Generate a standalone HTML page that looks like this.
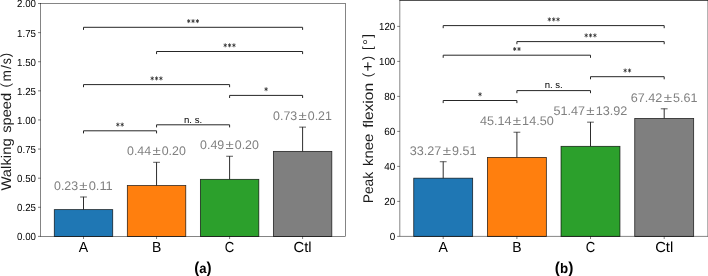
<!DOCTYPE html>
<html><head><meta charset="utf-8"><title>Figure</title>
<style>html,body{margin:0;padding:0;background:#fff;}svg{display:block;will-change:transform;text-rendering:geometricPrecision;font-family:"Liberation Sans", sans-serif;}</style>
</head><body>
<svg width="708" height="276" viewBox="0 0 708 276">
<rect width="708" height="276" fill="#fff"/>
<rect x="54.29" y="209.62" width="58.43" height="26.78" fill="#1f77b4" stroke="#000" stroke-opacity="0.8" stroke-width="0.8"/>
<rect x="127.34" y="185.57" width="58.43" height="50.83" fill="#ff7f0e" stroke="#000" stroke-opacity="0.8" stroke-width="0.8"/>
<rect x="200.39" y="179.34" width="58.43" height="57.06" fill="#2ca02c" stroke="#000" stroke-opacity="0.8" stroke-width="0.8"/>
<rect x="273.39" y="151.39" width="58.43" height="85.01" fill="#7f7f7f" stroke="#000" stroke-opacity="0.8" stroke-width="0.8"/>
<path d="M83.5 209.62V196.81" stroke="#222" stroke-width="0.95" fill="none"/>
<path d="M80.1 197.01H86.9" stroke="#333" stroke-width="0.8" fill="none"/>
<text x="53.99" y="189.81" font-size="12.5" text-anchor="start" fill="#808080" textLength="24.14" lengthAdjust="spacingAndGlyphs">0.23</text>
<text x="83.5" y="189.81" font-size="12.5" text-anchor="middle" fill="#808080" textLength="8.23" lengthAdjust="spacingAndGlyphs">±</text>
<text x="88.66" y="189.81" font-size="12.5" text-anchor="start" fill="#808080" textLength="24.14" lengthAdjust="spacingAndGlyphs">0.11</text>
<path d="M156.55 185.57V162.1" stroke="#222" stroke-width="0.95" fill="none"/>
<path d="M153.15 162.3H159.95" stroke="#333" stroke-width="0.8" fill="none"/>
<text x="127.04" y="155.1" font-size="12.5" text-anchor="start" fill="#808080" textLength="24.14" lengthAdjust="spacingAndGlyphs">0.44</text>
<text x="156.55" y="155.1" font-size="12.5" text-anchor="middle" fill="#808080" textLength="8.23" lengthAdjust="spacingAndGlyphs">±</text>
<text x="161.71" y="155.1" font-size="12.5" text-anchor="start" fill="#808080" textLength="24.14" lengthAdjust="spacingAndGlyphs">0.20</text>
<path d="M229.6 179.34V156.05" stroke="#222" stroke-width="0.95" fill="none"/>
<path d="M226.2 156.25H233" stroke="#333" stroke-width="0.8" fill="none"/>
<text x="200.09" y="149.05" font-size="12.5" text-anchor="start" fill="#808080" textLength="24.14" lengthAdjust="spacingAndGlyphs">0.49</text>
<text x="229.6" y="149.05" font-size="12.5" text-anchor="middle" fill="#808080" textLength="8.23" lengthAdjust="spacingAndGlyphs">±</text>
<text x="234.76" y="149.05" font-size="12.5" text-anchor="start" fill="#808080" textLength="24.14" lengthAdjust="spacingAndGlyphs">0.20</text>
<path d="M302.6 151.39V126.94" stroke="#222" stroke-width="0.95" fill="none"/>
<path d="M299.2 127.14H306" stroke="#333" stroke-width="0.8" fill="none"/>
<text x="273.09" y="119.94" font-size="12.5" text-anchor="start" fill="#808080" textLength="24.14" lengthAdjust="spacingAndGlyphs">0.73</text>
<text x="302.6" y="119.94" font-size="12.5" text-anchor="middle" fill="#808080" textLength="8.23" lengthAdjust="spacingAndGlyphs">±</text>
<text x="307.76" y="119.94" font-size="12.5" text-anchor="start" fill="#808080" textLength="24.14" lengthAdjust="spacingAndGlyphs">0.21</text>
<rect x="40.6" y="3.5" width="305" height="232.9" fill="none" stroke="#000" stroke-opacity="0.8" stroke-width="0.6"/>
<text x="36" y="240.3" font-size="10.3" text-anchor="end" fill="#000" textLength="18.9" lengthAdjust="spacingAndGlyphs">0.00</text>
<text x="36" y="211.19" font-size="10.3" text-anchor="end" fill="#000" textLength="18.9" lengthAdjust="spacingAndGlyphs">0.25</text>
<text x="36" y="182.08" font-size="10.3" text-anchor="end" fill="#000" textLength="18.9" lengthAdjust="spacingAndGlyphs">0.50</text>
<text x="36" y="152.96" font-size="10.3" text-anchor="end" fill="#000" textLength="18.9" lengthAdjust="spacingAndGlyphs">0.75</text>
<text x="36" y="123.85" font-size="10.3" text-anchor="end" fill="#000" textLength="18.9" lengthAdjust="spacingAndGlyphs">1.00</text>
<text x="36" y="94.74" font-size="10.3" text-anchor="end" fill="#000" textLength="18.9" lengthAdjust="spacingAndGlyphs">1.25</text>
<text x="36" y="65.62" font-size="10.3" text-anchor="end" fill="#000" textLength="18.9" lengthAdjust="spacingAndGlyphs">1.50</text>
<text x="36" y="36.51" font-size="10.3" text-anchor="end" fill="#000" textLength="18.9" lengthAdjust="spacingAndGlyphs">1.75</text>
<text x="36" y="7.4" font-size="10.3" text-anchor="end" fill="#000" textLength="18.9" lengthAdjust="spacingAndGlyphs">2.00</text>
<text x="83.5" y="251.7" font-size="14.6" text-anchor="middle" fill="#000" textLength="9.4" lengthAdjust="spacingAndGlyphs">A</text>
<text x="156.55" y="251.7" font-size="14.6" text-anchor="middle" fill="#000" textLength="9.3" lengthAdjust="spacingAndGlyphs">B</text>
<text x="229.6" y="251.7" font-size="14.6" text-anchor="middle" fill="#000" textLength="9.5" lengthAdjust="spacingAndGlyphs">C</text>
<text x="302.6" y="251.7" font-size="14.6" text-anchor="middle" fill="#000" textLength="18.1" lengthAdjust="spacingAndGlyphs">Ctl</text>
<path d="M40.6 236.4h-2.6M40.6 207.29h-2.6M40.6 178.18h-2.6M40.6 149.06h-2.6M40.6 119.95h-2.6M40.6 90.84h-2.6M40.6 61.72h-2.6M40.6 32.61h-2.6M40.6 3.5h-2.6M83.5 236.4v2.6M156.55 236.4v2.6M229.6 236.4v2.6M302.6 236.4v2.6" stroke="#000" stroke-opacity="0.85" stroke-width="0.6" fill="none"/>
<path d="M83.5 29.9V27.3H302.6V29.9" stroke="#262626" stroke-width="1.0" fill="none"/>
<path d="M188.7 19.1V23.1M187.1 20.12L190.3 22.08M187.1 22.08L190.3 20.12M193.05 19.1V23.1M191.45 20.12L194.65 22.08M191.45 22.08L194.65 20.12M197.4 19.1V23.1M195.8 20.12L199 22.08M195.8 22.08L199 20.12" stroke="#2a2a2a" stroke-width="0.8" fill="none"/>
<path d="M156.55 54.1V51.5H302.6V54.1" stroke="#262626" stroke-width="1.0" fill="none"/>
<path d="M225.23 43.3V47.3M223.63 44.32L226.83 46.28M223.63 46.28L226.83 44.32M229.58 43.3V47.3M227.98 44.32L231.18 46.28M227.98 46.28L231.18 44.32M233.93 43.3V47.3M232.33 44.32L235.53 46.28M232.33 46.28L235.53 44.32" stroke="#2a2a2a" stroke-width="0.8" fill="none"/>
<path d="M83.5 87.2V84.6H229.6V87.2" stroke="#262626" stroke-width="1.0" fill="none"/>
<path d="M152.2 76.4V80.4M150.6 77.42L153.8 79.38M150.6 79.38L153.8 77.42M156.55 76.4V80.4M154.95 77.42L158.15 79.38M154.95 79.38L158.15 77.42M160.9 76.4V80.4M159.3 77.42L162.5 79.38M159.3 79.38L162.5 77.42" stroke="#2a2a2a" stroke-width="0.8" fill="none"/>
<path d="M229.6 98V95.4H302.6V98" stroke="#262626" stroke-width="1.0" fill="none"/>
<path d="M266.1 87.2V91.2M264.5 88.22L267.7 90.18M264.5 90.18L267.7 88.22" stroke="#2a2a2a" stroke-width="0.8" fill="none"/>
<path d="M83.5 133.4V130.8H156.55V133.4" stroke="#262626" stroke-width="1.0" fill="none"/>
<path d="M117.85 122.6V126.6M116.25 123.62L119.45 125.58M116.25 125.58L119.45 123.62M122.2 122.6V126.6M120.6 123.62L123.8 125.58M120.6 125.58L123.8 123.62" stroke="#2a2a2a" stroke-width="0.8" fill="none"/>
<path d="M156.55 127.4V124.8H229.6V127.4" stroke="#262626" stroke-width="1.0" fill="none"/>
<text x="193.07" y="122.5" font-size="9.5" text-anchor="middle" fill="#000" textLength="18.1" lengthAdjust="spacingAndGlyphs">n. s.</text>
<g transform="translate(11.1 121.7) rotate(-90)" font-size="14.0" fill="#1a1a1a"><text x="-68.91" y="0" textLength="52.25" lengthAdjust="spacingAndGlyphs">Walking</text><text x="-10.97" y="0" textLength="39.74" lengthAdjust="spacingAndGlyphs">speed</text><text x="36.56" y="-0.8" font-size="13.4" text-anchor="middle">(</text><text x="45.84" y="0" text-anchor="middle" textLength="11.4" lengthAdjust="spacingAndGlyphs">m</text><text x="54.76" y="0" text-anchor="middle" textLength="3.94" lengthAdjust="spacingAndGlyphs">/</text><text x="60.6" y="0" text-anchor="middle" textLength="6.1" lengthAdjust="spacingAndGlyphs">s</text><text x="66.8" y="-0.8" font-size="13.4" text-anchor="middle">)</text></g>
<rect x="413.73" y="178.18" width="58.93" height="58.22" fill="#1f77b4" stroke="#000" stroke-opacity="0.8" stroke-width="0.8"/>
<rect x="487.43" y="157.41" width="58.93" height="79" fill="#ff7f0e" stroke="#000" stroke-opacity="0.8" stroke-width="0.8"/>
<rect x="561.03" y="146.33" width="58.93" height="90.07" fill="#2ca02c" stroke="#000" stroke-opacity="0.8" stroke-width="0.8"/>
<rect x="634.73" y="118.42" width="58.93" height="117.98" fill="#7f7f7f" stroke="#000" stroke-opacity="0.8" stroke-width="0.8"/>
<path d="M443.2 178.18V161.53" stroke="#222" stroke-width="0.95" fill="none"/>
<path d="M439.8 161.73H446.6" stroke="#333" stroke-width="0.8" fill="none"/>
<text x="409.82" y="154.53" font-size="12.5" text-anchor="start" fill="#808080" textLength="31.58" lengthAdjust="spacingAndGlyphs">33.27</text>
<text x="446.81" y="154.53" font-size="12.5" text-anchor="middle" fill="#808080" textLength="8.31" lengthAdjust="spacingAndGlyphs">±</text>
<text x="452.01" y="154.53" font-size="12.5" text-anchor="start" fill="#808080" textLength="24.37" lengthAdjust="spacingAndGlyphs">9.51</text>
<path d="M516.9 157.41V132.03" stroke="#222" stroke-width="0.95" fill="none"/>
<path d="M513.5 132.23H520.3" stroke="#333" stroke-width="0.8" fill="none"/>
<text x="479.91" y="125.03" font-size="12.5" text-anchor="start" fill="#808080" textLength="31.58" lengthAdjust="spacingAndGlyphs">45.14</text>
<text x="516.9" y="125.03" font-size="12.5" text-anchor="middle" fill="#808080" textLength="8.31" lengthAdjust="spacingAndGlyphs">±</text>
<text x="522.11" y="125.03" font-size="12.5" text-anchor="start" fill="#808080" textLength="31.58" lengthAdjust="spacingAndGlyphs">14.50</text>
<path d="M590.5 146.33V121.97" stroke="#222" stroke-width="0.95" fill="none"/>
<path d="M587.1 122.17H593.9" stroke="#333" stroke-width="0.8" fill="none"/>
<text x="553.51" y="114.97" font-size="12.5" text-anchor="start" fill="#808080" textLength="31.58" lengthAdjust="spacingAndGlyphs">51.47</text>
<text x="590.5" y="114.97" font-size="12.5" text-anchor="middle" fill="#808080" textLength="8.31" lengthAdjust="spacingAndGlyphs">±</text>
<text x="595.71" y="114.97" font-size="12.5" text-anchor="start" fill="#808080" textLength="31.58" lengthAdjust="spacingAndGlyphs">13.92</text>
<path d="M664.2 118.42V108.6" stroke="#222" stroke-width="0.95" fill="none"/>
<path d="M660.8 108.8H667.6" stroke="#333" stroke-width="0.8" fill="none"/>
<text x="630.82" y="101.6" font-size="12.5" text-anchor="start" fill="#808080" textLength="31.58" lengthAdjust="spacingAndGlyphs">67.42</text>
<text x="667.81" y="101.6" font-size="12.5" text-anchor="middle" fill="#808080" textLength="8.31" lengthAdjust="spacingAndGlyphs">±</text>
<text x="673.01" y="101.6" font-size="12.5" text-anchor="start" fill="#808080" textLength="24.37" lengthAdjust="spacingAndGlyphs">5.61</text>
<path d="M399.8 0V236.4H708" fill="none" stroke="#000" stroke-opacity="0.8" stroke-width="0.6"/>
<path d="M399.5 0.45H708" fill="none" stroke="#000" stroke-opacity="0.8" stroke-width="0.9"/>
<path d="M707.75 0V236.4" fill="none" stroke="#000" stroke-opacity="0.8" stroke-width="0.5"/>
<text x="395.2" y="240.3" font-size="10.3" text-anchor="end" fill="#000" textLength="5.5" lengthAdjust="spacingAndGlyphs">0</text>
<text x="395.2" y="205.3" font-size="10.3" text-anchor="end" fill="#000" textLength="11" lengthAdjust="spacingAndGlyphs">20</text>
<text x="395.2" y="170.3" font-size="10.3" text-anchor="end" fill="#000" textLength="11" lengthAdjust="spacingAndGlyphs">40</text>
<text x="395.2" y="135.3" font-size="10.3" text-anchor="end" fill="#000" textLength="11" lengthAdjust="spacingAndGlyphs">60</text>
<text x="395.2" y="100.3" font-size="10.3" text-anchor="end" fill="#000" textLength="11" lengthAdjust="spacingAndGlyphs">80</text>
<text x="395.2" y="65.3" font-size="10.3" text-anchor="end" fill="#000" textLength="16.2" lengthAdjust="spacingAndGlyphs">100</text>
<text x="395.2" y="30.3" font-size="10.3" text-anchor="end" fill="#000" textLength="16.2" lengthAdjust="spacingAndGlyphs">120</text>
<text x="443.2" y="251.7" font-size="14.6" text-anchor="middle" fill="#000" textLength="9.4" lengthAdjust="spacingAndGlyphs">A</text>
<text x="516.9" y="251.7" font-size="14.6" text-anchor="middle" fill="#000" textLength="9.3" lengthAdjust="spacingAndGlyphs">B</text>
<text x="590.5" y="251.7" font-size="14.6" text-anchor="middle" fill="#000" textLength="9.5" lengthAdjust="spacingAndGlyphs">C</text>
<text x="664.2" y="251.7" font-size="14.6" text-anchor="middle" fill="#000" textLength="18.1" lengthAdjust="spacingAndGlyphs">Ctl</text>
<path d="M399.8 236.4h-2.6M399.8 201.4h-2.6M399.8 166.4h-2.6M399.8 131.4h-2.6M399.8 96.4h-2.6M399.8 61.4h-2.6M399.8 26.4h-2.6M443.2 236.4v2.6M516.9 236.4v2.6M590.5 236.4v2.6M664.2 236.4v2.6" stroke="#000" stroke-opacity="0.85" stroke-width="0.6" fill="none"/>
<path d="M443.2 28.2V25.6H664.2V28.2" stroke="#262626" stroke-width="1.0" fill="none"/>
<path d="M549.35 17.4V21.4M547.75 18.42L550.95 20.38M547.75 20.38L550.95 18.42M553.7 17.4V21.4M552.1 18.42L555.3 20.38M552.1 20.38L555.3 18.42M558.05 17.4V21.4M556.45 18.42L559.65 20.38M556.45 20.38L559.65 18.42" stroke="#2a2a2a" stroke-width="0.8" fill="none"/>
<path d="M516.9 44.2V41.6H664.2V44.2" stroke="#262626" stroke-width="1.0" fill="none"/>
<path d="M586.2 33.4V37.4M584.6 34.42L587.8 36.38M584.6 36.38L587.8 34.42M590.55 33.4V37.4M588.95 34.42L592.15 36.38M588.95 36.38L592.15 34.42M594.9 33.4V37.4M593.3 34.42L596.5 36.38M593.3 36.38L596.5 34.42" stroke="#2a2a2a" stroke-width="0.8" fill="none"/>
<path d="M443.2 57.8V55.2H590.5V57.8" stroke="#262626" stroke-width="1.0" fill="none"/>
<path d="M514.68 47V51M513.08 48.02L516.28 49.98M513.08 49.98L516.28 48.02M519.02 47V51M517.42 48.02L520.62 49.98M517.42 49.98L520.62 48.02" stroke="#2a2a2a" stroke-width="0.8" fill="none"/>
<path d="M590.5 79.3V76.7H664.2V79.3" stroke="#262626" stroke-width="1.0" fill="none"/>
<path d="M625.18 68.5V72.5M623.58 69.52L626.78 71.48M623.58 71.48L626.78 69.52M629.52 68.5V72.5M627.92 69.52L631.12 71.48M627.92 71.48L631.12 69.52" stroke="#2a2a2a" stroke-width="0.8" fill="none"/>
<path d="M443.2 103.1V100.5H516.9V103.1" stroke="#262626" stroke-width="1.0" fill="none"/>
<path d="M480.05 92.3V96.3M478.45 93.32L481.65 95.28M478.45 95.28L481.65 93.32" stroke="#2a2a2a" stroke-width="0.8" fill="none"/>
<path d="M516.9 93.2V90.6H590.5V93.2" stroke="#262626" stroke-width="1.0" fill="none"/>
<text x="553.7" y="88.3" font-size="9.5" text-anchor="middle" fill="#000" textLength="18.1" lengthAdjust="spacingAndGlyphs">n. s.</text>
<g transform="translate(373 118.5) rotate(-90)" font-size="14.0" fill="#1a1a1a"><text x="-84.8" y="0" textLength="31.49" lengthAdjust="spacingAndGlyphs">Peak</text><text x="-47.52" y="0" textLength="32.44" lengthAdjust="spacingAndGlyphs">knee</text><text x="-9.3" y="0" textLength="44.89" lengthAdjust="spacingAndGlyphs">flexion</text><text x="43.52" y="-0.8" font-size="13.4" text-anchor="middle">(</text><text x="52.02" y="0.4" font-size="15.6" text-anchor="middle" textLength="9.98" lengthAdjust="spacingAndGlyphs">+</text><text x="60.52" y="-0.8" font-size="13.4" text-anchor="middle">)</text><text x="70.33" y="-0.8" font-size="13.4" text-anchor="middle">[</text><text x="76.49" y="0" text-anchor="middle" textLength="5.95" lengthAdjust="spacingAndGlyphs">°</text><text x="82.65" y="-0.8" font-size="13.4" text-anchor="middle">]</text></g>
<text x="202.85" y="272.7" font-size="13.8" text-anchor="middle" fill="#000" textLength="17.4" lengthAdjust="spacingAndGlyphs" font-weight="bold"><tspan font-size="16" dy="0.5">(</tspan><tspan dy="-0.5">a</tspan><tspan font-size="16" dy="0.5">)</tspan></text>
<text x="564.05" y="272.6" font-size="13.8" text-anchor="middle" fill="#000" textLength="18.5" lengthAdjust="spacingAndGlyphs" font-weight="bold"><tspan font-size="16" dy="0.5">(</tspan><tspan dy="-0.5">b</tspan><tspan font-size="16" dy="0.5">)</tspan></text>
</svg></body></html>
